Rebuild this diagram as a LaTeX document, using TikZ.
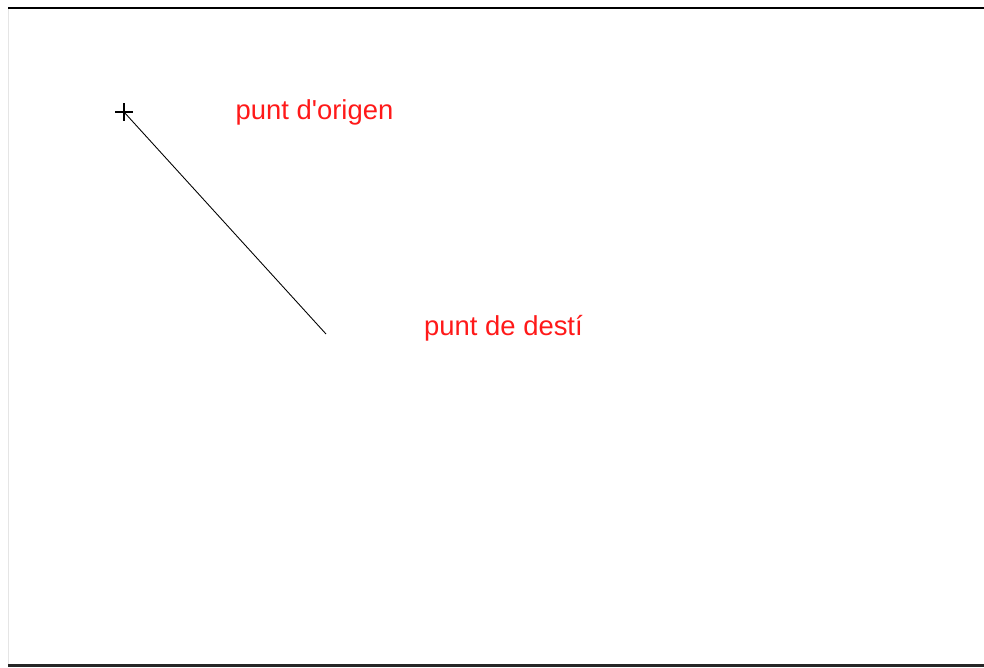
\documentclass[tikz,border=0pt]{standalone}
\usepackage{fontspec}
\setmainfont{Liberation Sans}
\usepackage{tikz}
\usepackage{xcolor}
\definecolor{labelred}{rgb}{1,0.1,0.1}
\definecolor{framegray}{gray}{0.9}

\begin{document}
\begin{tikzpicture}[x=0.2mm,y=-0.2mm,
	label text/.style={text=labelred,font=\fontsize{15.6pt}{18pt}\selectfont,inner sep=0pt}]
	\useasboundingbox (0,0) rectangle (984,668);
	%frame
	\draw[framegray,thin] (8,8)--(8,664);
	\draw[line width=1.1pt] (8,8)--(984,8);
	\draw[line width=1.7pt,black!85] (8,665.5)--(984,665.5);
	
	%points
	\coordinate (origen) at (124,112);
	\coordinate (desti) at (326,334);
	\draw[semithick] ([xshift=-1.8mm]origen)--([xshift=1.8mm]origen);
	\draw[semithick] ([yshift=-1.8mm]origen)--([yshift=1.8mm]origen);
	
	%labels
	\node[label text] (lorigen) at (314.5,112) {punt d\textquotesingle origen};
	\node[label text] (ldesti) at (503.5,328) {punt de destí};
	
	%line
	\draw[line width=0.5pt] (origen)--(desti);	%origen--desti
\end{tikzpicture}
\end{document}
